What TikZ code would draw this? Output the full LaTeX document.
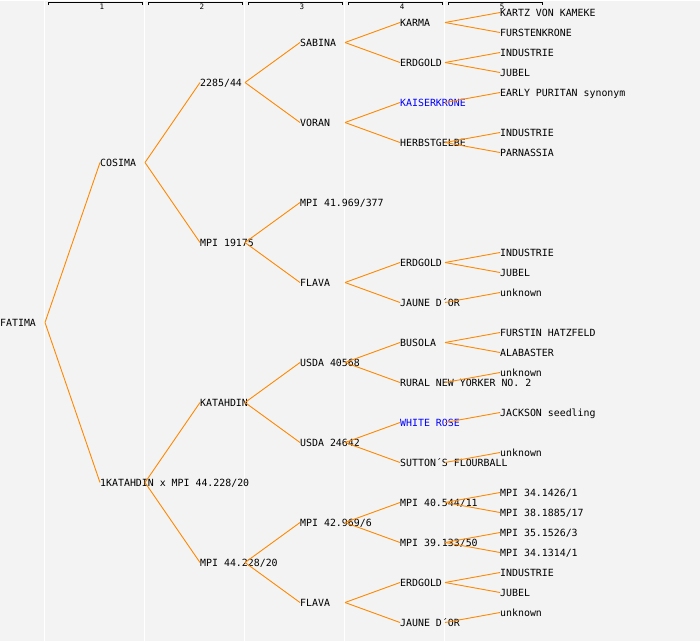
\documentclass[tikz,border=0pt]{standalone}
\usepackage{fontspec}
\setmonofont{DejaVu Sans Mono}
\usepackage{tikz}
\definecolor{paper}{RGB}{243, 243, 243}
\definecolor{branch}{RGB}{255, 136, 0}
\definecolor{markblue}{RGB}{0, 0, 255}
\tikzset{
  pname/.style={anchor=west, inner sep=0pt, text height=7.3pt, text depth=0pt,
    font=\fontsize{9.9}{11}\ttfamily},
  marked/.style={pname, text=markblue},
  link/.style={branch, line width=0.9pt},
  colnum/.style={anchor=center, inner sep=0pt, font=\fontsize{7.5}{8}\ttfamily}
}

\begin{document}
\begin{tikzpicture}[x=1pt, y=-1pt]

  \fill[paper] (0, 0) rectangle (700, 640);

  \draw[white, line width=1pt] (44.5, 0) -- (44.5, 640);
  \draw[white, line width=1pt] (144.5, 0) -- (144.5, 640);
  \draw[white, line width=1pt] (244.5, 0) -- (244.5, 640);
  \draw[white, line width=1pt] (344.5, 0) -- (344.5, 640);
  \draw[white, line width=1pt] (444.5, 0) -- (444.5, 640);

  \draw[line width=1pt] (48, 4.5) -- (48, 1.5) -- (142, 1.5) -- (142, 4.5);
  \draw[line width=1pt] (148, 4.5) -- (148, 1.5) -- (242, 1.5) -- (242, 4.5);
  \draw[line width=1pt] (248, 4.5) -- (248, 1.5) -- (342, 1.5) -- (342, 4.5);
  \draw[line width=1pt] (348, 4.5) -- (348, 1.5) -- (442, 1.5) -- (442, 4.5);
  \draw[line width=1pt] (448, 4.5) -- (448, 1.5) -- (542, 1.5) -- (542, 4.5);
  \node[colnum] (col1) at (102, 6.2) {1};
  \node[colnum] (col2) at (202, 6.2) {2};
  \node[colnum] (col3) at (302, 6.2) {3};
  \node[colnum] (col4) at (402, 6.2) {4};
  \node[colnum] (col5) at (502, 6.2) {5};

  % generation 0 and 1
  \node[pname] (fatima) at (0, 322) {FATIMA};
  \node[pname] (cosima) at (100, 162) {COSIMA};
  \node[pname] (katmpi) at (100, 482) {1KATAHDIN x MPI 44.228/20};

  % generation 2
  \node[pname] (g2285) at (200, 82) {2285/44};
  \node[pname] (mpi19175) at (200, 242) {MPI 19175};
  \node[pname] (katahdin) at (200, 402) {KATAHDIN};
  \node[pname] (mpi44228) at (200, 562) {MPI 44.228/20};

  % generation 3
  \node[pname] (sabina) at (300, 42) {SABINA};
  \node[pname] (voran) at (300, 122) {VORAN};
  \node[pname] (mpi41969) at (300, 202) {MPI 41.969/377};
  \node[pname] (flavaA) at (300, 282) {FLAVA};
  \node[pname] (usda40568) at (300, 362) {USDA 40568};
  \node[pname] (usda24642) at (300, 442) {USDA 24642};
  \node[pname] (mpi42969) at (300, 522) {MPI 42.969/6};
  \node[pname] (flavaB) at (300, 602) {FLAVA};

  % generation 4
  \node[pname] (karma) at (400, 22) {KARMA};
  \node[pname] (erdgoldA) at (400, 62) {ERDGOLD};
  \node[marked] (kaiser) at (400, 102) {KAISERKRONE};
  \node[pname] (herbst) at (400, 142) {HERBSTGELBE};
  \node[pname] (erdgoldB) at (400, 262) {ERDGOLD};
  \node[pname] (jauneA) at (400, 302) {JAUNE D´OR};
  \node[pname] (busola) at (400, 342) {BUSOLA};
  \node[pname] (rural) at (400, 382) {RURAL NEW YORKER NO. 2};
  \node[marked] (whiterose) at (400, 422) {WHITE ROSE};
  \node[pname] (sutton) at (400, 462) {SUTTON´S FLOURBALL};
  \node[pname] (mpi40544) at (400, 502) {MPI 40.544/11};
  \node[pname] (mpi39133) at (400, 542) {MPI 39.133/50};
  \node[pname] (erdgoldC) at (400, 582) {ERDGOLD};
  \node[pname] (jauneB) at (400, 622) {JAUNE D´OR};

  % generation 5
  \node[pname] (kartz) at (500, 12) {KARTZ VON KAMEKE};
  \node[pname] (furstenkrone) at (500, 32) {FURSTENKRONE};
  \node[pname] (industrieA) at (500, 52) {INDUSTRIE};
  \node[pname] (jubelA) at (500, 72) {JUBEL};
  \node[pname] (early) at (500, 92) {EARLY PURITAN synonym};
  \node[pname] (industrieB) at (500, 132) {INDUSTRIE};
  \node[pname] (parnassia) at (500, 152) {PARNASSIA};
  \node[pname] (industrieC) at (500, 252) {INDUSTRIE};
  \node[pname] (jubelB) at (500, 272) {JUBEL};
  \node[pname] (unknownA) at (500, 292) {unknown};
  \node[pname] (furstin) at (500, 332) {FURSTIN HATZFELD};
  \node[pname] (alabaster) at (500, 352) {ALABASTER};
  \node[pname] (unknownB) at (500, 372) {unknown};
  \node[pname] (jackson) at (500, 412) {JACKSON seedling};
  \node[pname] (unknownC) at (500, 452) {unknown};
  \node[pname] (mpi341426) at (500, 492) {MPI 34.1426/1};
  \node[pname] (mpi381885) at (500, 512) {MPI 38.1885/17};
  \node[pname] (mpi351526) at (500, 532) {MPI 35.1526/3};
  \node[pname] (mpi341314) at (500, 552) {MPI 34.1314/1};
  \node[pname] (industrieD) at (500, 572) {INDUSTRIE};
  \node[pname] (jubelC) at (500, 592) {JUBEL};
  \node[pname] (unknownD) at (500, 612) {unknown};

  % branches, parent junction 45pt right of the name
  \draw[link] ([xshift=45pt]fatima.west) -- (cosima.west);
  \draw[link] ([xshift=45pt]fatima.west) -- (katmpi.west);
  \draw[link] ([xshift=45pt]cosima.west) -- (g2285.west);
  \draw[link] ([xshift=45pt]cosima.west) -- (mpi19175.west);
  \draw[link] ([xshift=45pt]katmpi.west) -- (katahdin.west);
  \draw[link] ([xshift=45pt]katmpi.west) -- (mpi44228.west);

  \draw[link] ([xshift=45pt]g2285.west) -- (sabina.west);
  \draw[link] ([xshift=45pt]g2285.west) -- (voran.west);
  \draw[link] ([xshift=45pt]mpi19175.west) -- (mpi41969.west);
  \draw[link] ([xshift=45pt]mpi19175.west) -- (flavaA.west);
  \draw[link] ([xshift=45pt]katahdin.west) -- (usda40568.west);
  \draw[link] ([xshift=45pt]katahdin.west) -- (usda24642.west);
  \draw[link] ([xshift=45pt]mpi44228.west) -- (mpi42969.west);
  \draw[link] ([xshift=45pt]mpi44228.west) -- (flavaB.west);

  \draw[link] ([xshift=45pt]sabina.west) -- (karma.west);
  \draw[link] ([xshift=45pt]sabina.west) -- (erdgoldA.west);
  \draw[link] ([xshift=45pt]voran.west) -- (kaiser.west);
  \draw[link] ([xshift=45pt]voran.west) -- (herbst.west);
  \draw[link] ([xshift=45pt]flavaA.west) -- (erdgoldB.west);
  \draw[link] ([xshift=45pt]flavaA.west) -- (jauneA.west);
  \draw[link] ([xshift=45pt]usda40568.west) -- (busola.west);
  \draw[link] ([xshift=45pt]usda40568.west) -- (rural.west);
  \draw[link] ([xshift=45pt]usda24642.west) -- (whiterose.west);
  \draw[link] ([xshift=45pt]usda24642.west) -- (sutton.west);
  \draw[link] ([xshift=45pt]mpi42969.west) -- (mpi40544.west);
  \draw[link] ([xshift=45pt]mpi42969.west) -- (mpi39133.west);
  \draw[link] ([xshift=45pt]flavaB.west) -- (erdgoldC.west);
  \draw[link] ([xshift=45pt]flavaB.west) -- (jauneB.west);

  \draw[link] ([xshift=45pt]karma.west) -- (kartz.west);
  \draw[link] ([xshift=45pt]karma.west) -- (furstenkrone.west);
  \draw[link] ([xshift=45pt]erdgoldA.west) -- (industrieA.west);
  \draw[link] ([xshift=45pt]erdgoldA.west) -- (jubelA.west);
  \draw[link] ([xshift=45pt]kaiser.west) -- (early.west);
  \draw[link] ([xshift=45pt]herbst.west) -- (industrieB.west);
  \draw[link] ([xshift=45pt]herbst.west) -- (parnassia.west);
  \draw[link] ([xshift=45pt]erdgoldB.west) -- (industrieC.west);
  \draw[link] ([xshift=45pt]erdgoldB.west) -- (jubelB.west);
  \draw[link] ([xshift=45pt]jauneA.west) -- (unknownA.west);
  \draw[link] ([xshift=45pt]busola.west) -- (furstin.west);
  \draw[link] ([xshift=45pt]busola.west) -- (alabaster.west);
  \draw[link] ([xshift=45pt]rural.west) -- (unknownB.west);
  \draw[link] ([xshift=45pt]whiterose.west) -- (jackson.west);
  \draw[link] ([xshift=45pt]sutton.west) -- (unknownC.west);
  \draw[link] ([xshift=45pt]mpi40544.west) -- (mpi341426.west);
  \draw[link] ([xshift=45pt]mpi40544.west) -- (mpi381885.west);
  \draw[link] ([xshift=45pt]mpi39133.west) -- (mpi351526.west);
  \draw[link] ([xshift=45pt]mpi39133.west) -- (mpi341314.west);
  \draw[link] ([xshift=45pt]erdgoldC.west) -- (industrieD.west);
  \draw[link] ([xshift=45pt]erdgoldC.west) -- (jubelC.west);
  \draw[link] ([xshift=45pt]jauneB.west) -- (unknownD.west);

\end{tikzpicture}
\end{document}
